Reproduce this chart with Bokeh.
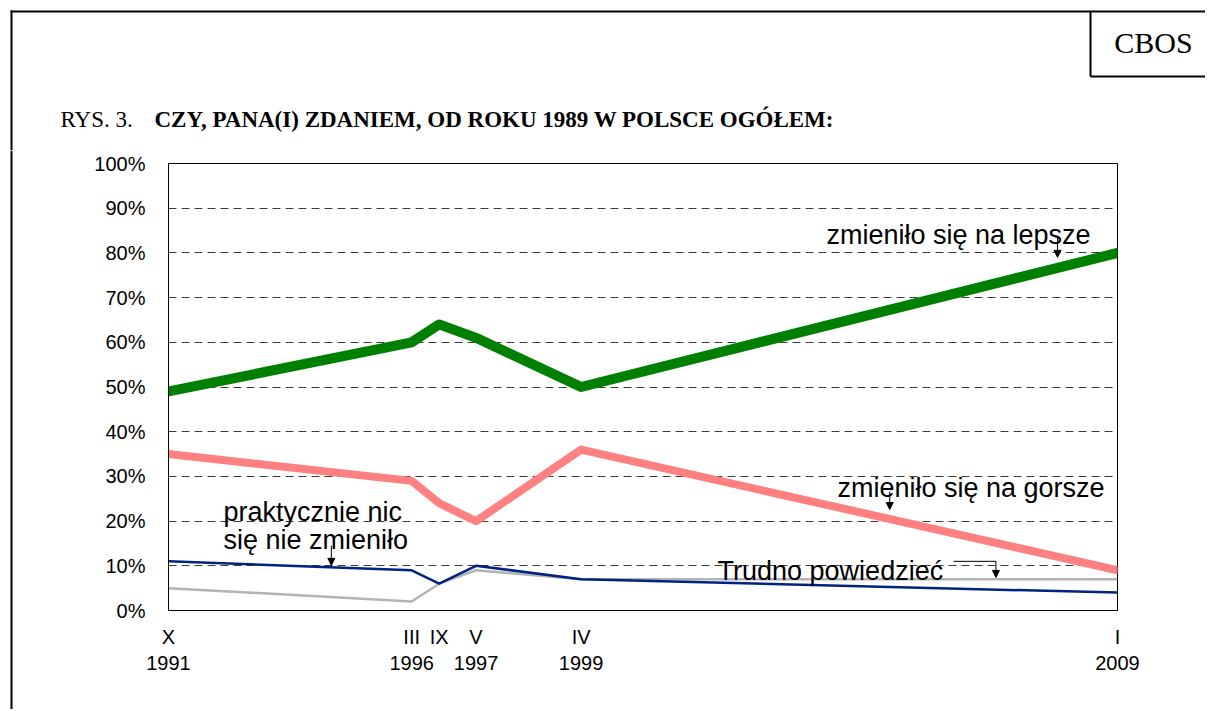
from bokeh.plotting import figure
from bokeh.layouts import column, row
from bokeh.models import Label, FixedTicker, Range1d, Arrow, NormalHead
from bokeh.core.properties import value
from bokeh.embed import file_html
from bokeh.resources import INLINE

# ---- data ----
dates = [1991.79, 1996.21, 1996.71, 1997.38, 1999.29, 2009.04]
tick_labels = ["X\n1991", "III\n1996", "IX", "V\n1997", "IV\n1999", "I\n2009"]
lepsze = [49, 60, 64, 61, 50, 80]
gorsze = [35, 29, 24, 20, 36, 9]
nic = [11, 9, 6, 10, 7, 4]
trudno = [5, 2, 6, 9, 7, 7]
y_ticks = list(range(0, 101, 10))
title_prefix = "RYS. 3."
title_main = "CZY, PANA(I) ZDANIEM, OD ROKU 1989 W POLSCE OGÓŁEM:"
brand = "CBOS"

FONT = "Liberation Sans"
SERIF = "Liberation Serif"

W, H1, H2, STRIP = 1205, 150, 559, 20


def blank(width, height, xr, yr):
    f = figure(width=width, height=height, output_backend="svg", toolbar_location=None,
               x_range=Range1d(*xr), y_range=Range1d(*yr),
               x_axis_location=None, y_axis_location=None,
               min_border=0, min_border_left=0, min_border_right=0,
               min_border_top=0, min_border_bottom=0)
    f.outline_line_color = None
    f.xgrid.grid_line_color = None
    f.ygrid.grid_line_color = None
    f.background_fill_color = "white"
    f.border_fill_color = "white"
    try:
        f.frame_align = False
    except Exception:
        pass
    return f


# ---- header (page coordinates, y down) ----
hdr = blank(W, H1, (0, W), (H1, 0))
hdr.segment(x0=[10, 11], y0=[11, 10], x1=[W, 11], y1=[11, H1], line_color="black", line_width=2)
hdr.segment(x0=[1090, 1090], y0=[11, 76], x1=[1090, W], y1=[76, 76], line_color="black", line_width=2)
hdr.text(x=[1153], y=[42], text=[brand], text_font=value(SERIF), text_font_size="30px",
         text_align="center", text_baseline="middle", text_color="black")
hdr.text(x=[60], y=[119], text=[title_prefix], text_font=value(SERIF), text_font_size="23px",
         text_align="left", text_baseline="alphabetic", text_color="black")
hdr.text(x=[154], y=[119], text=[title_main], text_font=value(SERIF), text_font_size="23px",
         text_font_style="bold", text_align="left", text_baseline="alphabetic", text_color="black")

# ---- left strip with page border ----
strip = blank(STRIP, H2, (0, STRIP), (H2, 0))
strip.segment(x0=[11], y0=[0], x1=[11], y1=[H2], line_color="black", line_width=2)

# ---- main chart ----
p = figure(width=W - STRIP, height=H2, output_backend="svg", toolbar_location=None,
           x_range=Range1d(dates[0], dates[-1]), y_range=Range1d(0, 100),
           min_border_left=148, min_border_right=88, min_border_top=13,
           min_border_bottom=99)
p.background_fill_color = "white"
p.border_fill_color = "white"
p.outline_line_color = "black"
p.outline_line_width = 1

p.yaxis.ticker = FixedTicker(ticks=y_ticks)
p.yaxis.major_label_overrides = {v: f"{v}%" for v in y_ticks}
p.yaxis.major_tick_line_color = None
p.yaxis.major_tick_out = 0
p.yaxis.major_tick_in = 0
p.yaxis.minor_tick_line_color = None
p.yaxis.axis_line_color = "black"
p.yaxis.major_label_standoff = 23
p.yaxis.major_label_text_font = FONT
p.yaxis.major_label_text_font_size = "20px"
p.yaxis.major_label_text_color = "black"

p.xaxis.ticker = FixedTicker(ticks=dates)
p.xaxis.major_label_overrides = {d: t for d, t in zip(dates, tick_labels)}
p.xaxis.major_tick_line_color = None
p.xaxis.major_tick_out = 0
p.xaxis.major_tick_in = 0
p.xaxis.minor_tick_line_color = None
p.xaxis.axis_line_color = "black"
p.xaxis.major_label_standoff = 15
p.xaxis.major_label_text_font = FONT
p.xaxis.major_label_text_font_size = "20px"
p.xaxis.major_label_text_color = "black"

p.xgrid.grid_line_color = None
p.ygrid.ticker = FixedTicker(ticks=y_ticks[1:-1])
p.ygrid.grid_line_color = "#3c3c3c"
p.ygrid.grid_line_dash = "8 5"
p.ygrid.grid_line_width = 1

p.line(dates, trudno, line_color="#b4b4b4", line_width=2.5)
p.line(dates, nic, line_color="#002282", line_width=2.5)
p.line(dates, gorsze, line_color="#ff8080", line_width=8, line_cap="round", line_join="round")
p.line(dates, lepsze, line_color="#008000", line_width=10, line_cap="round", line_join="round")


def lab(x, y, text):
    p.add_layout(Label(x=x, y=y, text=text, text_font=FONT, text_font_size="27px",
                       text_color="black", text_baseline="alphabetic", text_align="left"))


lab(2003.75, 83.9, "zmieniło się na lepsze")
lab(2003.95, 27.3, "zmieniło się na gorsze")
lab(2001.77, 8.9, "Trudno powiedzieć")
lab(1992.79, 22.1, "praktycznie nic")
lab(1992.79, 15.7, "się nie zmieniło")


def arrow(x0, y0, x1, y1, head=True):
    p.add_layout(Arrow(x_start=x0, y_start=y0, x_end=x1, y_end=y1, line_width=1,
                       end=NormalHead(size=7, fill_color="black", line_color="black") if head else None))


arrow(2007.95, 83.4, 2007.95, 79.0)
arrow(2004.90, 26.6, 2004.90, 22.6)
arrow(1994.75, 14.5, 1994.75, 10.1)
arrow(2006.06, 11.0, 2006.83, 11.0, head=False)
arrow(2006.83, 11.0, 2006.83, 7.4)

layout = column(hdr, row(strip, p, spacing=0), spacing=0)
open("out.html", "w").write(file_html(layout, INLINE))
